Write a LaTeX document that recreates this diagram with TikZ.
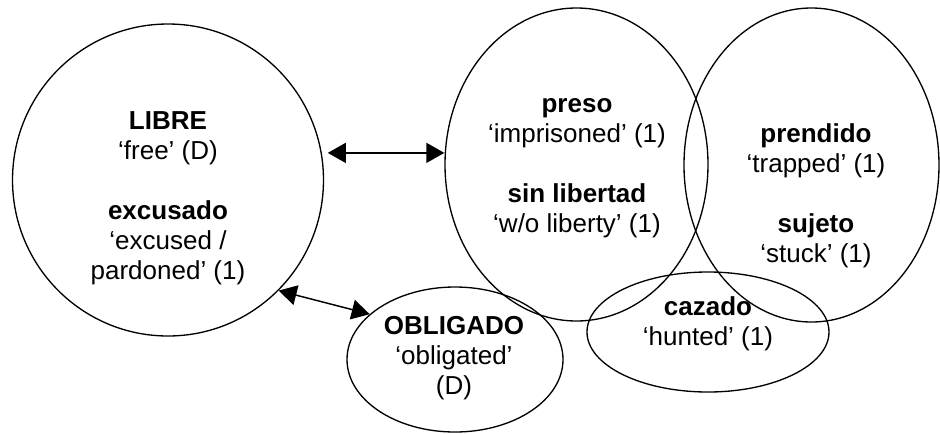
\documentclass[tikz,border=0pt]{standalone}
\usepackage{fontspec}
\setmainfont{Liberation Sans}
\usetikzlibrary{arrows.meta,shapes.geometric}
\tikzset{
  blob/.style={draw=black, line width=1pt, ellipse, inner sep=0pt},
  lbl/.style={align=center, anchor=base, inner sep=0pt,
    font=\fontsize{19.5}{22.5}\selectfont},
  arr/.style={line width=1.1pt, {Triangle[length=13.5pt,width=15pt]}-{Triangle[length=13.5pt,width=15pt]}}
}
\begin{document}
\begin{tikzpicture}[x=0.75pt,y=-0.75pt]
\useasboundingbox (0,0) rectangle (940,433);
\node[blob, minimum width=233.25pt, minimum height=234pt] (libre) at (168,180) {};
\node[blob, minimum width=197.25pt, minimum height=234.75pt] (preso) at (576.5,164.5) {};
\node[blob, minimum width=191.25pt, minimum height=235.5pt] (prend) at (811.5,165) {};
\node[blob, minimum width=181.5pt, minimum height=90pt] (caz) at (708,332) {};
\node[blob, minimum width=162pt, minimum height=108.75pt] (obl) at (455,359.5) {};

\node[lbl] (tlibre) at (168,279) {\textbf{LIBRE}\\‘free’ (D)\\[22.5pt]\textbf{excusado}\\‘excused /\\pardoned’ (1)};
\node[lbl] (tpreso) at (577,232) {\textbf{preso}\\‘imprisoned’ (1)\\[22.5pt]\textbf{sin libertad}\\‘w/o liberty’ (1)};
\node[lbl] (tprend) at (816,262) {\textbf{prendido}\\‘trapped’ (1)\\[22.5pt]\textbf{sujeto}\\‘stuck’ (1)};
\node[lbl] (tcaz) at (708,345) {\textbf{cazado}\\‘hunted’ (1)};
\node[lbl] (tobl) at (454,394) {\textbf{OBLIGADO}\\‘obligated’\\(D)};

\coordinate (a1) at ([xshift=4.5pt]libre.10);
\draw[arr] (a1) -- (a1 -| preso.west);
\draw[arr] (libre.-45) -- (obl.152);
\end{tikzpicture}
\end{document}
